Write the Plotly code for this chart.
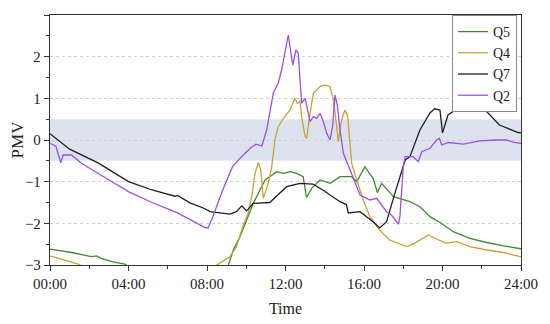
import plotly.graph_objects as go

# Time in hours, PMV values
q7_t = [0, 1.0, 2.45, 4.0, 5.2, 6.37, 6.5, 7.13, 7.9, 8.15, 9.17, 9.5, 9.77, 10.02, 10.35, 11.2, 11.7, 12.06, 12.74, 13.4, 13.9, 14.27, 14.78, 15.1, 15.2, 15.8, 16.46, 16.8, 17.15, 17.58, 18.1, 18.34, 18.85, 19.36, 19.6, 19.87, 20.0, 20.28, 20.9, 21.4, 22.25, 22.9, 23.5, 23.85, 24]
q7_v = [0.15, -0.22, -0.55, -1.0, -1.2, -1.35, -1.33, -1.51, -1.65, -1.72, -1.78, -1.72, -1.58, -1.70, -1.52, -1.50, -1.28, -1.12, -1.04, -1.06, -1.2, -1.32, -1.48, -1.55, -1.75, -1.72, -1.96, -2.11, -1.96, -1.27, -0.48, -0.40, 0.24, 0.65, 0.75, 0.72, 0.17, 0.6, 0.80, 0.84, 0.68, 0.36, 0.24, 0.18, 0.17]

q2_t = [0, 0.3, 0.55, 0.67, 1.1, 1.6, 2.8, 4.0, 5.2, 6.5, 7.9, 8.05, 8.3, 8.8, 9.3, 9.7, 10.2, 10.5, 10.8, 11.04, 11.38, 11.63, 11.8, 12.14, 12.37, 12.53, 12.65, 12.82, 13.0, 13.25, 13.42, 13.59, 13.76, 13.93, 14.1, 14.27, 14.4, 14.52, 14.64, 14.78, 14.95, 15.29, 15.54, 15.8, 16.3, 16.65, 17.15, 17.4, 17.75, 17.83, 18.0, 18.1, 18.5, 18.77, 18.94, 19.36, 19.7, 19.84, 19.96, 20.3, 21.06, 21.9, 22.76, 23.27, 23.6, 24]
q2_v = [-0.08, -0.15, -0.55, -0.36, -0.36, -0.56, -0.9, -1.24, -1.5, -1.75, -2.10, -2.11, -1.84, -1.2, -0.64, -0.43, -0.2, -0.1, -0.14, 0.24, 1.13, 1.36, 1.68, 2.52, 1.8, 2.16, 2.08, 0.88, 1.0, 0.44, 0.56, 0.52, 0.64, 0.44, 0.16, 0.0, 0.32, 1.08, 0.84, 0.24, -0.32, -0.72, -1.04, -1.32, -1.44, -1.40, -1.72, -1.8, -2.02, -1.84, -0.64, -0.40, -0.40, -0.52, -0.28, -0.2, 0.0, 0.04, -0.12, -0.06, -0.1, -0.02, 0.0, 0.0, -0.05, -0.08]

q4_t = [0, 0.7, 1.44, 1.9, 8.3, 8.5, 9.17, 9.5, 9.85, 10.1, 10.28, 10.45, 10.61, 10.74, 10.87, 11.12, 11.3, 11.46, 11.63, 11.89, 12.23, 12.48, 12.6, 12.74, 12.82, 13.0, 13.08, 13.25, 13.42, 13.76, 14.01, 14.27, 14.44, 14.61, 14.69, 14.86, 15.03, 15.17, 15.29, 15.37, 15.63, 15.96, 16.3, 16.8, 17.3, 17.83, 18.17, 18.5, 18.94, 19.28, 19.53, 20.2, 20.72, 21.4, 22.25, 23.1, 23.95, 24]
q4_v = [-2.78, -2.88, -2.98, -3.1, -3.2, -3.0, -2.8, -2.56, -2.04, -1.76, -1.36, -0.8, -0.54, -0.72, -1.40, -1.04, -0.64, 0.0, 0.32, 0.52, 0.72, 1.0, 0.88, 0.92, 0.56, 0.08, 0.04, 0.64, 1.12, 1.28, 1.32, 1.28, 0.96, 0.32, -0.04, 0.48, 0.72, 0.56, -0.08, -0.56, -0.96, -1.44, -1.84, -2.16, -2.4, -2.5, -2.56, -2.5, -2.38, -2.28, -2.34, -2.48, -2.44, -2.56, -2.64, -2.70, -2.80, -2.80]

q5_t = [0, 1.1, 2.1, 2.38, 2.6, 3.14, 3.82, 4.2, 8.9, 9.09, 9.34, 9.68, 10.02, 10.36, 10.7, 10.96, 11.2, 11.55, 11.89, 12.23, 12.57, 12.9, 13.07, 13.33, 13.76, 14.27, 14.78, 15.37, 15.63, 16.05, 16.3, 16.47, 16.68, 16.9, 17.5, 18.34, 18.85, 19.36, 19.87, 20.55, 21.4, 22.25, 23.1, 23.9, 24]
q5_v = [-2.62, -2.70, -2.80, -2.78, -2.84, -2.92, -2.98, -3.1, -3.2, -3.0, -2.64, -2.32, -1.92, -1.52, -1.2, -0.96, -0.88, -0.76, -0.80, -0.76, -0.80, -0.88, -1.38, -1.16, -0.96, -1.04, -0.88, -0.88, -1.0, -0.64, -0.82, -0.92, -1.26, -1.04, -1.36, -1.48, -1.60, -1.84, -1.98, -2.2, -2.36, -2.46, -2.54, -2.6, -2.61]

tick_vals = [0, 4, 8, 12, 16, 20, 24]
tick_text = ["00:00", "04:00", "08:00", "12:00", "16:00", "20:00", "24:00"]

FONT = "Liberation Serif"

fig = go.Figure()
series = [
    ("Q5", q5_t, q5_v, "#3f8a2f"),
    ("Q4", q4_t, q4_v, "#c9a233"),
    ("Q7", q7_t, q7_v, "#1e1e1e"),
    ("Q2", q2_t, q2_v, "#9d4ee8"),
]
for name, t, v, c in series:
    fig.add_trace(go.Scatter(x=t, y=v, mode="lines", name=name,
                             line=dict(color=c, width=1.3)))

fig.add_shape(type="rect", xref="x", yref="y", x0=0, x1=24, y0=-0.5, y1=0.5,
              fillcolor="#dce3ef", line_width=0, layer="below")

fig.update_layout(
    width=550, height=324,
    margin=dict(l=42, r=37, t=7, b=67),
    paper_bgcolor="white", plot_bgcolor="white",
    font=dict(family=FONT, size=13, color="#222"),
    showlegend=True,
    legend=dict(x=0.9915, y=1.0, xanchor="right", yanchor="top",
                bgcolor="white", bordercolor="#888", borderwidth=1,
                font=dict(family=FONT, size=14, color="#222"),
                tracegroupgap=0, itemwidth=30),
    xaxis=dict(range=[0, 24], tickvals=tick_vals, ticktext=tick_text,
               showgrid=False, zeroline=False, automargin=False,
               showline=True, linecolor="#333", linewidth=1.3, mirror=True,
               ticks="outside", ticklen=5, tickcolor="#333",
               minor=dict(dtick=2, ticks="outside", ticklen=3, tickcolor="#333"),
               title=dict(text="Time", font=dict(family=FONT, size=16), standoff=11),
               tickfont=dict(family=FONT, size=15)),
    yaxis=dict(range=[-3, 3], dtick=1, showgrid=True, gridcolor="#cfcfcf",
               griddash="dot", gridwidth=1, zeroline=False, automargin=False,
               showline=True, linecolor="#333", linewidth=1.3, mirror=True,
               ticks="outside", ticklen=5, tickcolor="#333",
               minor=dict(dtick=0.5, ticks="outside", ticklen=3, tickcolor="#333", showgrid=False),
               title=dict(text="PMV", font=dict(family=FONT, size=17), standoff=5),
               tickfont=dict(family=FONT, size=15)),
)

fig.write_html("out.html")
